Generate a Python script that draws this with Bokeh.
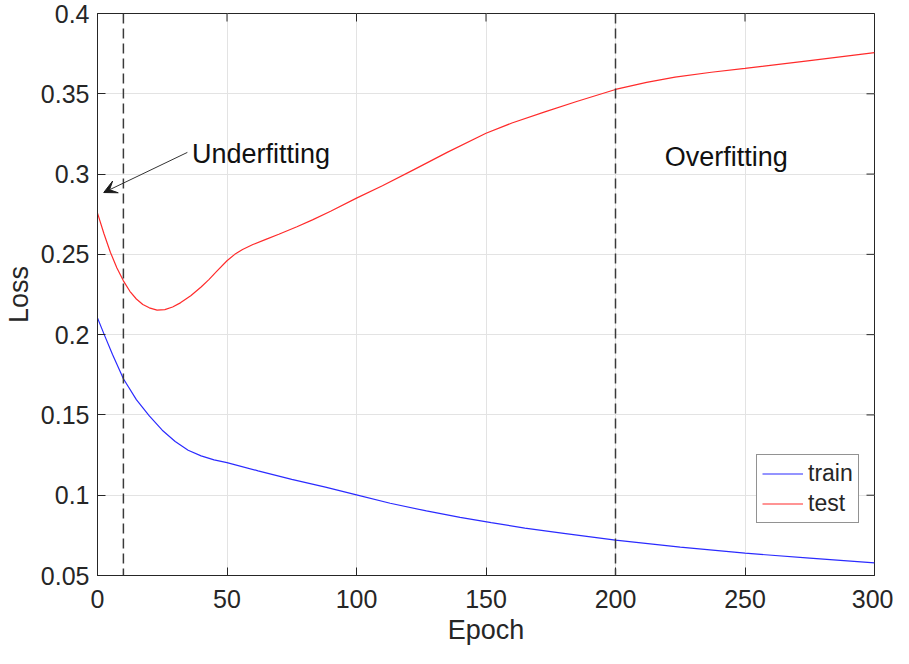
import math
from bokeh.plotting import figure
from bokeh.models import (ColumnDataSource, FixedTicker, Span, Arrow, VeeHead, Label,
                          Legend, LegendItem, Range1d)
from bokeh.embed import file_html
from bokeh.resources import INLINE

# ---- data ----
train_epoch = [0, 2.6, 5.8, 10, 15, 20, 25, 30, 35, 40, 45, 50, 62, 75, 88, 100, 113, 127,
               140, 152, 165, 180, 200, 225, 250, 275, 300]
train_loss = [0.2104, 0.200, 0.1876, 0.1725, 0.1595, 0.1494, 0.1405, 0.1335, 0.1280, 0.1245,
              0.1220, 0.1203, 0.1152, 0.1099, 0.105, 0.1002, 0.095, 0.0902, 0.0862, 0.0829,
              0.0795, 0.0762, 0.0720, 0.0677, 0.0639, 0.0608, 0.0579]

test_epoch = [0, 2.5, 5, 7.5, 10, 12.5, 15, 17.5, 20, 23, 26, 29, 32, 36, 40, 43, 46, 50,
              53, 56, 60, 65, 70, 77, 83, 90, 100, 110, 122, 135, 150, 160, 173, 185, 200,
              212, 223, 237, 250, 275, 300]
test_loss = [0.2757, 0.2628, 0.2512, 0.2415, 0.2335, 0.2270, 0.2222, 0.2188, 0.2167, 0.2153,
             0.2156, 0.2172, 0.2198, 0.2242, 0.2297, 0.2343, 0.2394, 0.2460, 0.2500, 0.2530,
             0.2561, 0.2593, 0.2625, 0.2672, 0.2715, 0.2768, 0.2850, 0.2927, 0.3026, 0.3135,
             0.3254, 0.3318, 0.3389, 0.3452, 0.3527, 0.3571, 0.3604, 0.3634, 0.3658, 0.3707,
             0.3756]

phase_bounds = [10, 200]
phase_labels = ["Underfitting", "Overfitting"]
x_ticks = [0, 50, 100, 150, 200, 250, 300]
x_tick_labels = ["0", "50", "100", "150", "200", "250", "300"]
y_ticks = [0.05, 0.1, 0.15, 0.2, 0.25, 0.3, 0.35, 0.4]
y_tick_labels = ["0.05", "0.1", "0.15", "0.2", "0.25", "0.3", "0.35", "0.4"]

FONT = "Liberation Sans"
TXT = "#262626"
X0, X1, Y0, Y1 = 0, 300, 0.05, 0.4

p = figure(width=893, height=648, output_backend="svg", toolbar_location=None,
           x_range=Range1d(X0, X1), y_range=Range1d(Y0, Y1),
           min_border_left=97, min_border_right=19, min_border_top=13, min_border_bottom=73)

p.outline_line_color = TXT
p.outline_line_width = 1
p.background_fill_color = "white"
p.border_fill_color = "white"

for ax in (p.xaxis[0], p.yaxis[0]):
    ax.major_tick_in = 8
    ax.major_tick_out = 0
    ax.minor_tick_in = 0
    ax.minor_tick_out = 0
    ax.axis_line_color = TXT
    ax.major_tick_line_color = TXT
    ax.major_label_text_font = FONT
    ax.major_label_text_font_size = "25px"
    ax.major_label_text_color = TXT
    ax.axis_label_text_font = FONT
    ax.axis_label_text_font_style = "normal"
    ax.axis_label_text_font_size = "27px"
    ax.axis_label_text_color = TXT

xax = p.xaxis[0]
yax = p.yaxis[0]
xax.ticker = FixedTicker(ticks=x_ticks)
yax.ticker = FixedTicker(ticks=y_ticks)
xax.major_label_overrides = {t: l for t, l in zip(x_ticks, x_tick_labels)}
yax.major_label_overrides = {t: l for t, l in zip(y_ticks, y_tick_labels)}
xax.axis_label = "Epoch"
yax.axis_label = "Loss"
xax.major_label_standoff = 14
yax.major_label_standoff = 8
xax.axis_label_standoff = 4
yax.axis_label_standoff = 4

p.grid.grid_line_color = "#e3e3e3"
p.grid.grid_line_width = 1
p.xgrid.ticker = FixedTicker(ticks=x_ticks)
p.ygrid.ticker = FixedTicker(ticks=y_ticks)

# inward ticks on the top and right edges of the box (clipped to the frame)
p.scatter(x=x_ticks, y=[Y1] * len(x_ticks), marker="dash", size=16, angle=math.pi / 2,
          line_color=TXT, line_width=1)
p.scatter(x=[X1] * len(y_ticks), y=y_ticks, marker="dash", size=16,
          line_color=TXT, line_width=1)

train_src = ColumnDataSource(dict(x=train_epoch, y=train_loss))
test_src = ColumnDataSource(dict(x=test_epoch, y=test_loss))
r_train = p.line("x", "y", source=train_src, line_color="#2b2bff", line_width=1.2)
r_test = p.line("x", "y", source=test_src, line_color="#ff2b2b", line_width=1.2)

for b in phase_bounds:
    p.add_layout(Span(location=b, dimension="height", line_color="#3a3a3a",
                      line_width=1.5, line_dash="10 5"))

p.add_layout(Arrow(end=VeeHead(size=13, fill_color="#1a1a1a", line_color="#1a1a1a"),
                   x_start=34.7, y_start=0.3135, x_end=2.4, y_end=0.2885,
                   line_color="#333333", line_width=1))

p.add_layout(Label(x=36.5, y=0.3125, text=phase_labels[0], text_font=FONT,
                   text_font_size="27px", text_color="#111111", text_baseline="middle"))
p.add_layout(Label(x=219, y=0.3105, text=phase_labels[1], text_font=FONT,
                   text_font_size="27px", text_color="#111111", text_baseline="middle"))

legend = Legend(items=[LegendItem(label="train", renderers=[r_train]),
                       LegendItem(label="test", renderers=[r_test])],
                location=(659, 52))
legend.label_text_font = FONT
legend.label_text_font_size = "23px"
legend.label_text_color = TXT
legend.glyph_width = 41
legend.glyph_height = 27
legend.label_height = 27
legend.label_standoff = 5
legend.padding = 5
legend.spacing = 3
legend.margin = 0
legend.border_line_color = TXT
legend.border_line_width = 1
legend.background_fill_alpha = 1
p.add_layout(legend)

open("out.html", "w").write(file_html(p, INLINE))
